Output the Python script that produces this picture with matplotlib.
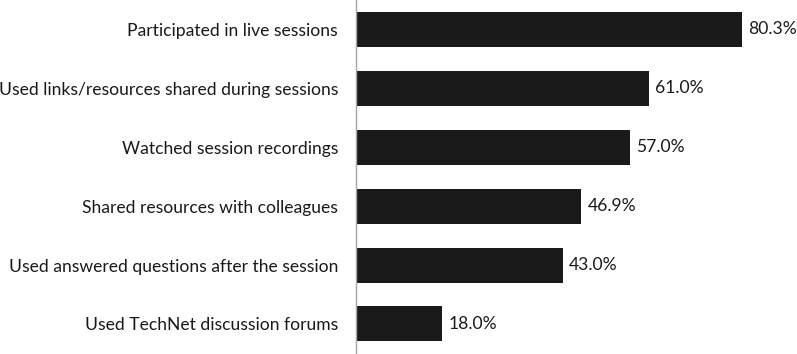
import matplotlib
matplotlib.use("Agg")
import matplotlib.pyplot as plt

# survey items, bottom to top
items = [
    "Used TechNet discussion forums",
    "Used answered questions after the session",
    "Shared resources with colleagues",
    "Watched session recordings",
    "Used links/resources shared during sessions",
    "Participated in live sessions",
]
pct = [18.0, 43.0, 46.9, 57.0, 61.0, 80.3]

plt.rcParams["font.family"] = ["Lato", "DejaVu Sans"]
ink = "#1a1a1a"
fs = 12.6

fig = plt.figure(figsize=(7.97, 3.54), dpi=100)
ax = fig.add_axes([356 / 797, 0, 1 - 356 / 797, 1])

ypos = range(len(items))
ax.barh(ypos, pct, height=0.595, color=ink)
for y, v in zip(ypos, pct):
    ax.text(v + 1.3, y, f"{v:.1f}%", va="center", ha="left", fontsize=fs, color=ink)

ax.set_xlim(0, 91.8)
ax.set_ylim(-0.51, 5.5)
ax.set_yticks(list(ypos))
ax.set_yticklabels(items, fontsize=fs, color=ink)
ax.tick_params(axis="y", length=0, pad=13)
ax.set_xticks([])
for s in ["top", "right", "bottom"]:
    ax.spines[s].set_visible(False)
ax.spines["left"].set_color("#a6a6a6")
ax.spines["left"].set_linewidth(1.0)

fig.savefig("out.png", dpi=100)
